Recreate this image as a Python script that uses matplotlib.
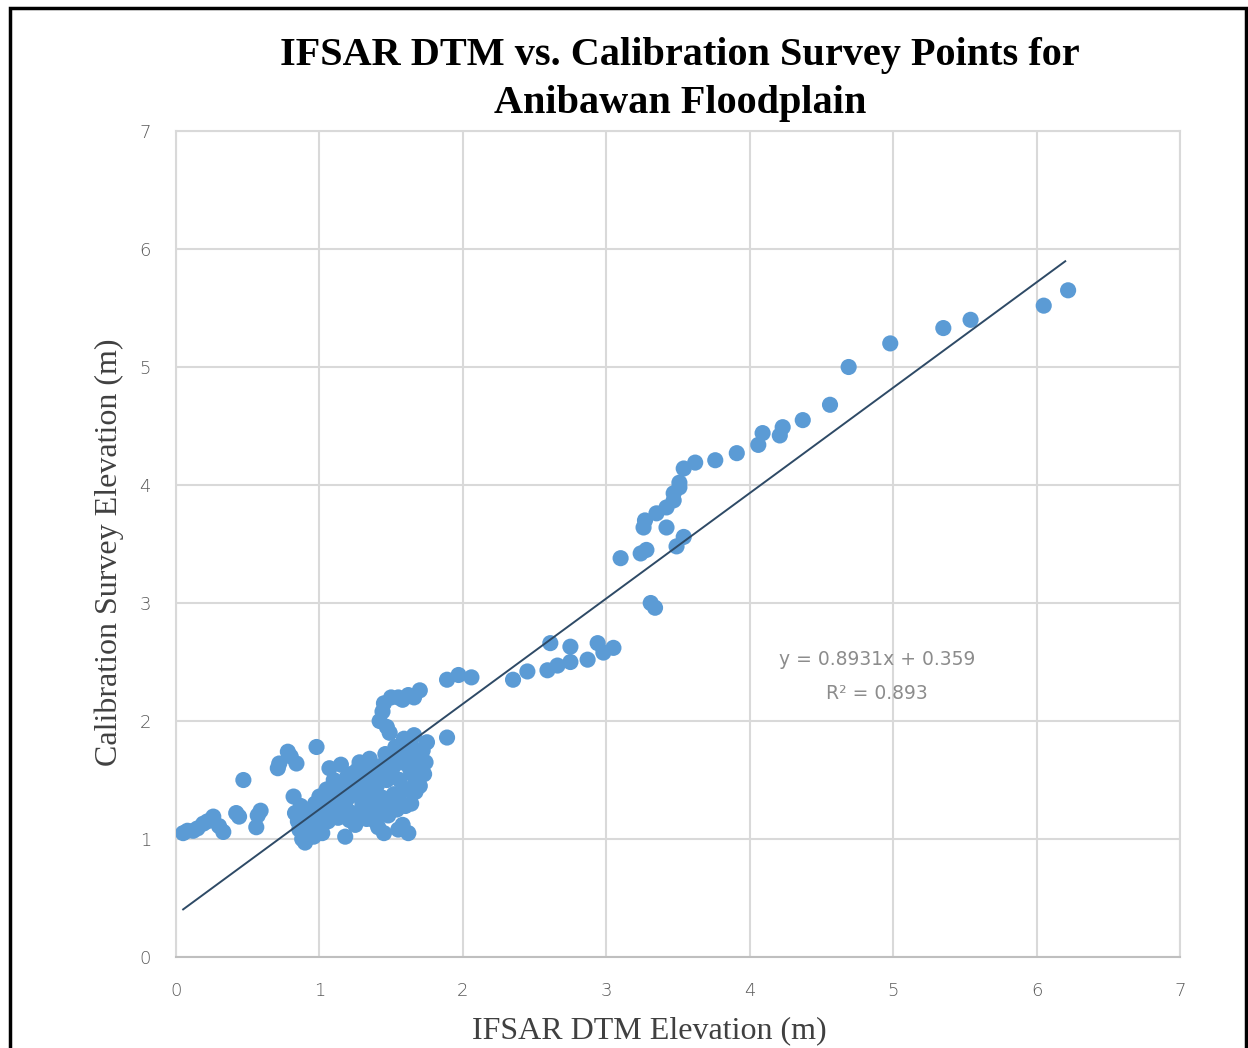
import numpy as np
import matplotlib.pyplot as plt
from matplotlib.patches import Rectangle

# IFSAR DTM elevation (m) vs calibration survey elevation (m)
ifsar_low = [0.05, 0.08, 0.12, 0.15, 0.19, 0.22, 0.26, 0.30, 0.33, 0.42, 0.44,
             0.56, 0.57, 0.59, 0.47, 0.71, 0.72, 0.78, 0.80, 0.84, 0.98]
survey_low = [1.05, 1.07, 1.07, 1.09, 1.13, 1.15, 1.19, 1.11, 1.06, 1.22, 1.19,
              1.10, 1.20, 1.24, 1.50, 1.60, 1.64, 1.74, 1.70, 1.64, 1.78]

ifsar_cluster = [0.82, 0.83, 0.85, 0.87, 0.88, 0.90, 0.92, 0.95, 0.97, 0.99, 1.00, 1.02,
                 1.03, 1.05, 1.07, 1.10, 1.12, 1.13, 1.15, 1.17, 1.18, 1.20, 1.22,
                 1.23, 1.25, 1.27, 1.28, 1.30, 1.32, 1.33, 1.35, 1.36, 1.38, 1.40,
                 1.41, 1.43, 1.44, 1.45, 1.46, 1.47, 1.48, 1.49, 1.51, 1.52, 1.53,
                 1.54, 1.56, 1.57, 1.58, 1.59, 1.61, 1.62, 1.63, 1.64, 1.65, 1.66,
                 1.68, 1.70, 1.72, 1.73, 1.75, 1.89, 0.90, 1.08, 1.26, 1.38, 1.55,
                 1.60, 1.67, 1.45, 1.35,
                 0.86, 0.93, 0.96, 1.01, 1.04, 1.06, 1.09, 1.11, 1.14, 1.16, 1.19,
                 1.21, 1.24, 1.26, 1.29, 1.31, 1.34, 1.37, 1.39, 1.42, 1.44, 1.50,
                 1.52, 1.55, 1.58, 1.60, 1.63, 1.66, 1.69, 1.71, 1.74, 1.33, 1.22,
                 1.12, 1.47, 1.57, 1.64, 1.40, 1.18, 1.29]
survey_cluster = [1.36, 1.22, 1.15, 1.28, 1.00, 0.97, 1.05, 1.22, 1.30, 1.12, 1.36, 1.05,
                  1.25, 1.42, 1.60, 1.50, 1.30, 1.18, 1.63, 1.45, 1.02, 1.35, 1.55,
                  1.22, 1.12, 1.48, 1.65, 1.30, 1.40, 1.17, 1.68, 1.55, 1.25, 1.45,
                  1.10, 1.62, 1.35, 1.05, 1.72, 1.50, 1.20, 1.90, 1.60, 1.38, 1.78,
                  1.25, 1.50, 1.65, 1.12, 1.85, 1.42, 1.05, 1.70, 1.30, 1.55, 1.88,
                  1.62, 1.45, 1.75, 1.55, 1.82, 1.86, 1.18, 1.20, 1.38, 1.58, 1.08,
                  1.72, 1.40, 1.28, 1.48,
                  1.08, 1.12, 1.02, 1.20, 1.32, 1.15, 1.38, 1.22, 1.42, 1.28, 1.52,
                  1.16, 1.40, 1.58, 1.20, 1.50, 1.30, 1.60, 1.15, 1.52, 1.22, 1.30,
                  1.68, 1.35, 1.75, 1.28, 1.60, 1.45, 1.68, 1.58, 1.65, 1.55, 1.45,
                  1.45, 1.62, 1.30, 1.80, 1.35, 1.28, 1.35]

ifsar_arm = [1.42, 1.44, 1.45, 1.47, 1.50, 1.55, 1.62, 1.70, 1.58, 1.66]
survey_arm = [2.00, 2.08, 2.15, 1.95, 2.20, 2.20, 2.22, 2.26, 2.18, 2.20]

ifsar_mid = [1.89, 1.97, 2.06, 2.35, 2.45, 2.59, 2.61, 2.66, 2.75, 2.75, 2.87,
             2.94, 2.98, 3.05]
survey_mid = [2.35, 2.39, 2.37, 2.35, 2.42, 2.43, 2.66, 2.47, 2.50, 2.63, 2.52,
              2.66, 2.58, 2.62]

ifsar_high = [3.10, 3.24, 3.28, 3.31, 3.34, 3.26, 3.27, 3.35, 3.42, 3.42, 3.47,
              3.49, 3.54, 3.47, 3.51, 3.51, 3.54, 3.62, 3.76, 3.91, 4.06, 4.09,
              4.21, 4.23, 4.37, 4.56, 4.69, 4.98, 5.35, 5.54, 6.05, 6.22]
survey_high = [3.38, 3.42, 3.45, 3.00, 2.96, 3.64, 3.70, 3.76, 3.64, 3.81, 3.87,
               3.48, 3.56, 3.93, 3.98, 4.02, 4.14, 4.19, 4.21, 4.27, 4.34, 4.44,
               4.42, 4.49, 4.55, 4.68, 5.00, 5.20, 5.33, 5.40, 5.52, 5.65]

ifsar = np.array(ifsar_low + ifsar_cluster + ifsar_arm + ifsar_mid + ifsar_high)
survey = np.array(survey_low + survey_cluster + survey_arm + survey_mid + survey_high)

# linear trendline reported on the chart
slope = 0.8931
intercept = 0.359
trend_x = np.array([0.05, 6.2])

plt.rcParams['font.family'] = ['Liberation Serif', 'DejaVu Serif']

fig = plt.figure(figsize=(12.48, 10.48), dpi=100)
ax = fig.add_axes([0.141, 0.0868, 0.8045, 0.7882])

grid_c = '#d9d9d9'
ax.scatter(ifsar, survey, s=135, color='#5b9bd5', edgecolors='none', zorder=3)
ax.plot(trend_x, slope * trend_x + intercept, color='#2e4a66', lw=1.4, zorder=4)

ax.set_xlim(0, 7)
ax.set_ylim(0, 7)
ax.set_xticks(range(8))
ax.set_yticks(range(8))
ax.grid(True, color=grid_c, lw=1.5, zorder=0)
for side, sp in ax.spines.items():
    sp.set_color(grid_c)
    sp.set_linewidth(1.5)
ax.spines['bottom'].set_color('#bfbfbf')
ax.tick_params(length=0, labelsize=13, labelcolor='#595959', pad=18)
for lab in ax.get_xticklabels() + ax.get_yticklabels():
    lab.set_family('DejaVu Sans')
    lab.set_fontweight('light')

ax.set_xlabel('IFSAR DTM Elevation (m)', fontsize=23, color='#404040')
ax.xaxis.set_label_coords(0.471, -0.072)
ax.set_ylabel('Calibration Survey Elevation (m)', fontsize=23, color='#404040')
ax.yaxis.set_label_coords(-0.052, 0.49)

ax.text(4.89, 2.52, 'y = 0.8931x + 0.359', fontsize=13.5, color='#8c8c8c',
        family='DejaVu Sans', ha='center', va='center')
ax.text(4.89, 2.23, 'R² = 0.893', fontsize=13.5, color='#8c8c8c',
        family='DejaVu Sans', ha='center', va='center')

fig.text(0.545, 0.947, 'IFSAR DTM vs. Calibration Survey Points for',
         fontsize=29, fontweight='bold', ha='center', va='center')
fig.text(0.545, 0.901, 'Anibawan Floodplain',
         fontsize=29, fontweight='bold', ha='center', va='center')

fig.add_artist(Rectangle((0.008, -0.01), 0.99, 1.002, transform=fig.transFigure,
                         fill=False, edgecolor='black', lw=2.5))

fig.savefig('out.png', dpi=100)
